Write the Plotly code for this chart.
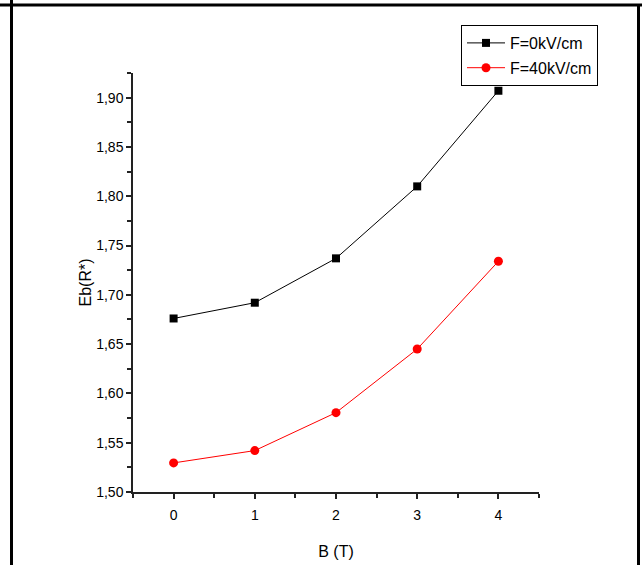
import plotly.graph_objects as go

# Data
B_T = [0, 1, 2, 3, 4]
eb_F0 = [1.676, 1.692, 1.737, 1.810, 1.907]
eb_F40 = [1.5295, 1.542, 1.5805, 1.645, 1.734]
names = ["F=0kV/cm", "F=40kV/cm"]
y_ticks = [1.50, 1.55, 1.60, 1.65, 1.70, 1.75, 1.80, 1.85, 1.90]
x_ticks = [0, 1, 2, 3, 4]

W, H = 642, 565
L, R, T, Bm = 133, 103, 73, 73
PW, PH = W - L - R, H - T - Bm


def px(x):
    return (x - L) / PW


def py(y):
    return (H - Bm - y) / PH


FONT = "Liberation Sans, Arial, sans-serif"

fig = go.Figure()
fig.add_trace(go.Scatter(
    x=B_T, y=eb_F0, name=names[0], mode="lines+markers",
    line=dict(color="black", width=1),
    marker=dict(symbol="square", size=8, color="black"),
    legendgroup="a",
))
fig.add_trace(go.Scatter(
    x=B_T, y=eb_F40, name=names[1], mode="lines+markers",
    line=dict(color="#ff0000", width=1),
    marker=dict(symbol="circle", size=9, color="#ff0000"),
    legendgroup="b",
))

axis_common = dict(
    showline=True, linecolor="#222", linewidth=1.5, mirror=False,
    showgrid=False, zeroline=False, ticks="outside", ticklen=5,
    tickwidth=1.5, tickcolor="#222",
    tickfont=dict(family=FONT, size=14, color="black"),
)

fig.update_layout(
    width=W, height=H,
    margin=dict(l=L, r=R, t=T, b=Bm, autoexpand=False),
    paper_bgcolor="white", plot_bgcolor="white",
    separators=",.",
    font=dict(family=FONT, color="black"),
    xaxis=dict(
        range=[-0.5, 4.5], tickvals=x_ticks, **axis_common,
        ticklabelstandoff=4,
        minor=dict(dtick=0.5, tick0=-0.5, ticks="outside", ticklen=4, tickwidth=1.5, tickcolor="#222"),
        title=dict(text="B (T)", font=dict(family=FONT, size=16, color="black"), standoff=24),
    ),
    yaxis=dict(
        range=[1.50, 1.925], tickvals=y_ticks, tickformat=".2f", **axis_common,
        minor=dict(dtick=0.025, tick0=1.5, ticks="outside", ticklen=4, tickwidth=1.5, tickcolor="#222"),
        title=dict(text="Eb(R*)", font=dict(family=FONT, size=16, color="black"), standoff=1),
    ),
    legend=dict(
        x=px(461), y=py(25), xanchor="left", yanchor="top",
        bordercolor="black", borderwidth=1, bgcolor="white",
        font=dict(family=FONT, size=16, color="black"),
        tracegroupgap=1, itemwidth=38,
    ),
    showlegend=True,
)

# Outer frame lines (top, left, right)
frame = [
    (px(0), py(5), px(W), py(5)),
    (px(11.5), py(0), px(11.5), py(H)),
    (px(638.5), py(5), px(638.5), py(H)),
]
for x0, y0, x1, y1 in frame:
    fig.add_shape(type="line", xref="paper", yref="paper",
                  x0=x0, y0=y0, x1=x1, y1=y1,
                  line=dict(color="black", width=3))

fig.write_html(
    "out.html",
    config={"displayModeBar": False},
    post_script="document.body.style.margin='0';document.body.style.overflow='hidden';",
)
